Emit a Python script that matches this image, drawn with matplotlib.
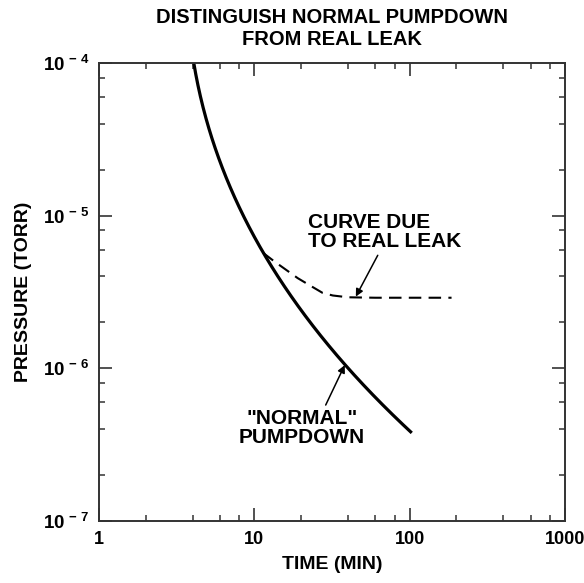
import numpy as np
import matplotlib
matplotlib.use('Agg')
import matplotlib.pyplot as plt
import matplotlib.ticker as ticker

plt.rcParams['font.family'] = ['Liberation Sans', 'DejaVu Sans']
plt.rcParams['font.weight'] = 'bold'
plt.rcParams['mathtext.fontset'] = 'custom'
plt.rcParams['mathtext.rm'] = 'Liberation Sans:bold'
plt.rcParams['mathtext.it'] = 'Liberation Sans:bold'
plt.rcParams['mathtext.bf'] = 'Liberation Sans:bold'

# ── data ────────────────────────────────────────────────────────────────
# normal pumpdown (solid)
normal_t = [4.14, 4.40, 4.95, 5.41, 6.65, 8.95, 10.85, 17.7, 38.2, 86.2, 100]
normal_p = [1.0e-4, 6.37e-5, 4.05e-5, 2.69e-5, 1.79e-5, 1.04e-5, 5.96e-6,
            2.81e-6, 1.05e-6, 4.59e-7, 3.84e-7]

# curve due to real leak (dashed)
leak_t = [11.4, 13.5, 16.1, 19.0, 22.7, 27.5, 32.0, 40.0, 60.0, 100.0, 186.0]
leak_p = [5.7e-6, 5.0e-6, 4.4e-6, 3.9e-6, 3.5e-6, 3.12e-6, 3.0e-6, 2.92e-6,
          2.9e-6, 2.9e-6, 2.9e-6]

x_ticks = [1, 10, 100, 1000]
x_labels = ['1', '10', '100', '1000']
y_ticks = [1e-7, 1e-6, 1e-5, 1e-4]
y_labels = [r'$10^{\,-\,7}$', r'$10^{\,-\,6}$', r'$10^{\,-\,5}$', r'$10^{\,-\,4}$']

# the hand-drawn solid curve is smoothed in log space (time as a function of pressure)
lp = np.log10(normal_p)
lt = np.log10(normal_t)
coef = np.polyfit(lp, lt, 3)
lp_fine = np.linspace(lp[0], lp[-1], 300)
lt_fine = np.polyval(coef, lp_fine)

fig = plt.figure(figsize=(5.84, 5.83), dpi=100)
ax = fig.add_axes([0.1695, 0.1063, 0.798, 0.7857])

ax.plot(10 ** lt_fine, 10 ** lp_fine, color='black', lw=2.3)
ax.plot(leak_t, leak_p, color='black', lw=1.5, linestyle=(0, (6, 3.5)))

ax.set_xscale('log')
ax.set_yscale('log')
ax.set_xlim(1, 1000)
ax.set_ylim(1e-7, 1e-4)

ax.xaxis.set_major_locator(ticker.FixedLocator(x_ticks))
ax.xaxis.set_minor_locator(ticker.LogLocator(base=10, subs=[2, 4, 6, 8]))
ax.yaxis.set_major_locator(ticker.FixedLocator(y_ticks))
ax.yaxis.set_minor_locator(ticker.LogLocator(base=10, subs=[2, 4, 6, 8]))
ax.xaxis.set_minor_formatter(ticker.NullFormatter())
ax.yaxis.set_minor_formatter(ticker.NullFormatter())
ax.set_xticklabels(x_labels, fontsize=13, fontweight='bold')
ax.set_yticklabels(y_labels, fontsize=13.5)

ax.tick_params(which='both', direction='in', top=True, right=True, color='#333333')
ax.tick_params(which='major', length=9.5, width=1.2, pad=7)
ax.tick_params(which='minor', length=4.3, width=1.1)
for s in ax.spines.values():
    s.set_linewidth(1.4)
    s.set_color('#333333')

ax.set_xlabel('TIME (MIN)', fontsize=14, fontweight='bold', labelpad=6)
ax.set_ylabel('PRESSURE (TORR)', fontsize=14, fontweight='bold', labelpad=8)
ax.set_title('DISTINGUISH NORMAL PUMPDOWN\nFROM REAL LEAK', fontsize=14.5,
             fontweight='bold', pad=13, linespacing=1.2)

arrow = dict(arrowstyle='-|>', lw=1.1, color='black', mutation_scale=11,
             shrinkA=0, shrinkB=0)
ax.text(22.1, 7.8e-6, 'CURVE DUE\nTO REAL LEAK', ha='left', va='center',
        fontsize=15, fontweight='bold', linespacing=1.0)
ax.annotate('', xy=(45, 2.95e-6), xytext=(62.3, 5.5e-6), arrowprops=arrow)
ax.text(20.2, 4.07e-7, '"NORMAL"\nPUMPDOWN', ha='center', va='center',
        fontsize=15, fontweight='bold', linespacing=1.0)
ax.annotate('', xy=(38.2, 1.05e-6), xytext=(28.8, 5.75e-7), arrowprops=arrow)

fig.savefig('out.png', dpi=100, facecolor='white')
